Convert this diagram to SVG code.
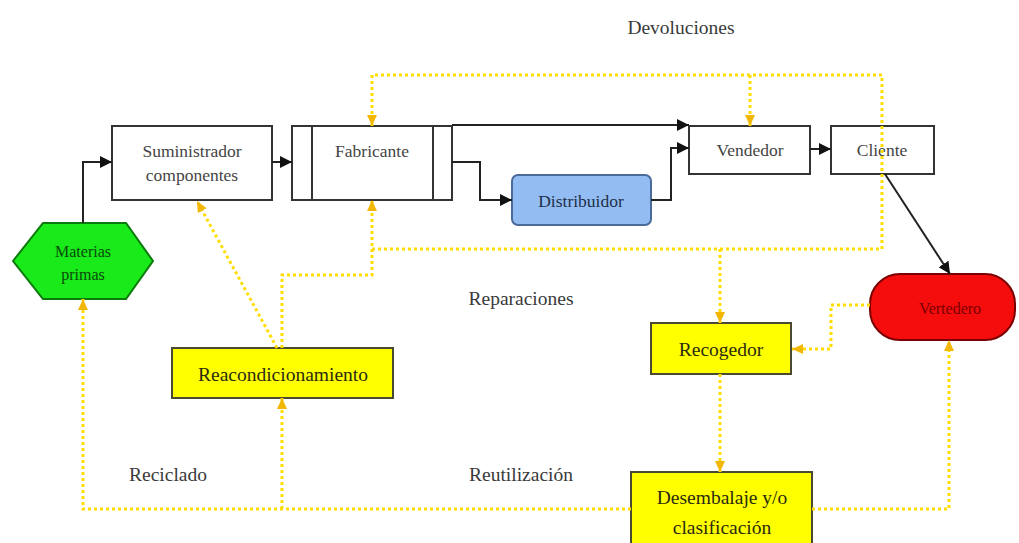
<svg xmlns="http://www.w3.org/2000/svg" width="1019" height="543" viewBox="0 0 1019 543">
  <style>
    .box { fill: #ffffff; stroke: #333333; stroke-width: 2; }
    .ybox { fill: #ffff00; stroke: #4a4a30; stroke-width: 2; }
    .t { font-family: "Liberation Serif", "Times New Roman", serif; font-size: 17.5px; fill: #444444; text-anchor: middle; }
    .yt { font-family: "Liberation Serif", "Times New Roman", serif; font-size: 19.5px; fill: #2a2a10; text-anchor: middle; }
    .lbl { font-family: "Liberation Serif", "Times New Roman", serif; font-size: 19.5px; fill: #3a3a3a; }
    .solid { fill: none; stroke: #222222; stroke-width: 2; marker-end: url(#arr); }
    .dot { fill: none; stroke: #ffdd00; stroke-width: 3; stroke-dasharray: 3 3; }
    .dota { fill: none; stroke: #ffdd00; stroke-width: 3; stroke-dasharray: 3 3; marker-end: url(#yarr); }
  </style>
  <defs>
    <marker id="arr" markerUnits="userSpaceOnUse" markerWidth="12" markerHeight="12" refX="12" refY="6" orient="auto">
      <path d="M0,0 L12,6 L0,12 z" fill="#111111"/>
    </marker>
    <marker id="yarr" markerUnits="userSpaceOnUse" markerWidth="12" markerHeight="12" refX="11" refY="6" orient="auto">
      <path d="M0,1 L11,6 L0,11 z" fill="#f2b705"/>
    </marker>
  </defs>

  <rect width="1019" height="543" fill="#ffffff"/>

  <!-- free labels -->
  <text class="lbl" x="681" y="34" text-anchor="middle">Devoluciones</text>
  <text class="lbl" x="521" y="305" text-anchor="middle">Reparaciones</text>
  <text class="lbl" x="168" y="481" text-anchor="middle">Reciclado</text>
  <text class="lbl" x="521" y="481" text-anchor="middle">Reutilización</text>

  <!-- nodes -->
  <g id="materias">
    <polygon points="13,261 43,223 126,223 153,261 126,299 43,299" fill="#19ea19" stroke="#0a7a0a" stroke-width="2"/>
    <text class="t" x="83" y="257" style="fill:#0a4a0a;font-size:16px">Materias</text>
    <text class="t" x="83" y="280" style="fill:#0a4a0a;font-size:16px">primas</text>
  </g>
  <g id="suministrador">
    <rect class="box" x="112" y="126" width="160" height="74"/>
    <text class="t" x="192" y="157">Suministrador</text>
    <text class="t" x="192" y="181">componentes</text>
  </g>
  <g id="fabricante">
    <rect class="box" x="292" y="126" width="160" height="74"/>
    <line x1="312" y1="126" x2="312" y2="200" stroke="#333333" stroke-width="2"/>
    <line x1="433" y1="126" x2="433" y2="200" stroke="#333333" stroke-width="2"/>
    <text class="t" x="372" y="157">Fabricante</text>
  </g>
  <g id="distribuidor">
    <rect x="512" y="175" width="139" height="50" rx="6" fill="#93bdf2" stroke="#4a6a9a" stroke-width="2"/>
    <text class="t" x="581" y="207" style="fill:#1f2f4a">Distribuidor</text>
  </g>
  <g id="vendedor">
    <rect class="box" x="689" y="126" width="121" height="48"/>
    <text class="t" x="750" y="156">Vendedor</text>
  </g>
  <g id="cliente">
    <rect class="box" x="831" y="126" width="103" height="48"/>
    <text class="t" x="882" y="156">Cliente</text>
  </g>
  <g id="vertedero">
    <rect x="870" y="274" width="145" height="66" rx="30" fill="#f50d0d" stroke="#7a0000" stroke-width="2"/>
    <text class="t" x="950" y="314" style="fill:#7a0000;font-size:16px">Vertedero</text>
  </g>
  <g id="recogedor">
    <rect class="ybox" x="651" y="323" width="140" height="51"/>
    <text class="yt" x="721" y="356">Recogedor</text>
  </g>
  <g id="reacondicionamiento">
    <rect class="ybox" x="172" y="348" width="221" height="50"/>
    <text class="yt" x="283" y="381">Reacondicionamiento</text>
  </g>
  <g id="desembalaje">
    <rect class="ybox" x="631" y="472" width="181" height="80"/>
    <text class="yt" x="722" y="504">Desembalaje y/o</text>
    <text class="yt" x="722" y="534">clasificación</text>
  </g>

  <!-- connectors -->
  <g id="connectors">
    <!-- forward flow -->
    <path class="solid" d="M83,223 V162 H112"/>
    <path class="solid" d="M272,162 H292"/>
    <path class="solid" d="M452,125 H689"/>
    <path class="solid" d="M452,162 H480 V200 H512"/>
    <path class="solid" d="M651,200 H671 V148 H689"/>
    <path class="solid" d="M810,149 H831"/>
    <path class="solid" d="M885,174 L950,274"/>

    <!-- returns -->
    <path class="dota" d="M882,249 V75 H372 V126"/>
    <path class="dota" d="M750,75 V126"/>
    <path class="dot" d="M372,249 H882"/>
    <path class="dota" d="M720,249 V323"/>
    <path class="dota" d="M282,348 V275 H372 V200"/>
    <path class="dota" d="M277,348 L197,201"/>
    <path class="dota" d="M870,305 H831 V349 H792"/>
    <path class="dota" d="M720,374 V472"/>
    <path class="dota" d="M631,509 H83 V299"/>
    <path class="dota" d="M282,509 V398"/>
    <path class="dota" d="M812,509 H949 V340"/>
  </g>
</svg>
